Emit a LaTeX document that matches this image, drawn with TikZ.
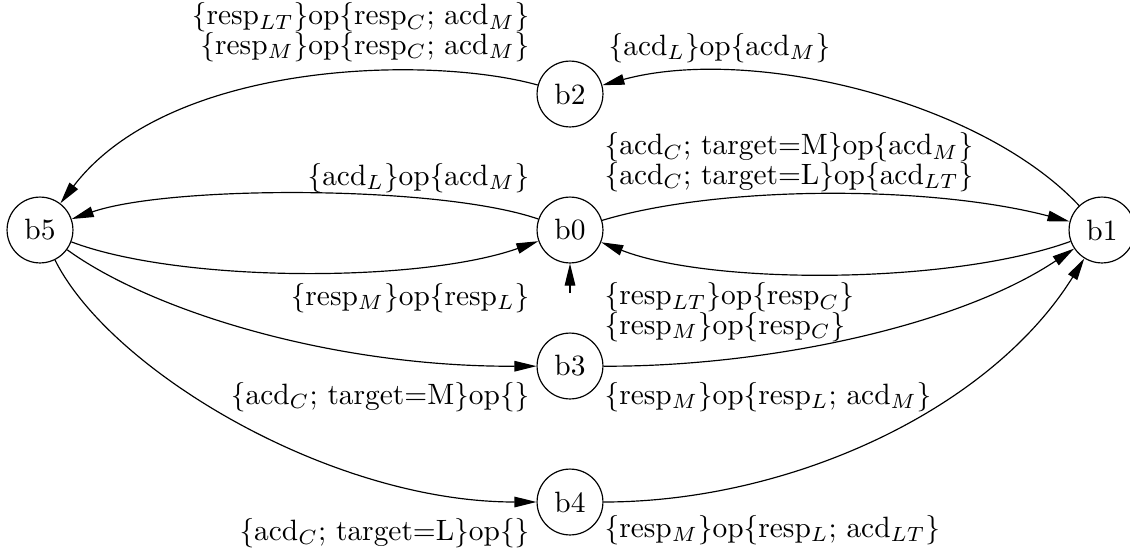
\documentclass[tikz,border=0pt]{standalone}
\usetikzlibrary{arrows.meta}

\tikzset{
  bstate/.style={draw, circle, minimum size=22.4pt, inner sep=0pt},
  tr/.style={-{Triangle[length=7.5pt,width=3.6pt]}},
  lblL/.style={anchor=west, align=left, inner sep=0pt, font=\fontsize{10pt}{10pt}\selectfont},
  lblR/.style={anchor=east, align=right, inner sep=0pt, font=\fontsize{10pt}{10pt}\selectfont},
}

\begin{document}
\begin{tikzpicture}[x=0.34pt, y=-0.34pt]
  \useasboundingbox (0,0) rectangle (1130,551);

% --- STATES ---
  \node[bstate] (b0) at (570,230) {b0};
  \node[bstate] (b1) at (1102,230) {b1};
  \node[bstate] (b2) at (570,94) {b2};
  \node[bstate] (b3) at (570,366) {b3};
  \node[bstate] (b4) at (570,502) {b4};
  \node[bstate] (b5) at (40,230) {b5};

  % start arrow
  \coordinate (init) at (570,293);
  \draw[tr] (init) -- (b0);

% --- TRANSITIONS ---
  % upper arcs
  \draw[tr] (b2) .. controls (430,55) and (170,60) .. (b5);
  \draw[tr] (b1) .. controls (980,100) and (750,45) .. (b2);

  % between b0, b5 and b1
  \draw[tr] (b0) .. controls (440,185) and (170,185) .. (b5);
  \draw[tr] (b5) .. controls (180,283) and (420,283) .. (b0);
  \draw[tr] (b0) .. controls (720,185) and (930,185) .. (b1);
  \draw[tr] (b1) .. controls (950,285) and (710,285) .. (b0);

  % lower arcs
  \draw[tr] (b5) .. controls (150,310) and (330,367) .. (b3);
  \draw[tr] (b3) .. controls (760,367) and (955,328) .. (b1);
  \draw[tr] (b5) .. controls (110,370) and (330,502) .. (b4);
  \draw[tr] (b4) .. controls (790,502) and (990,410) .. (b1);

% --- LABELS ---
  \node[lblR] (l25) at (530,32) {\{resp$_{LT}$\}op\{resp$_C$; acd$_M$\}\\\{resp$_M$\}op\{resp$_C$; acd$_M$\}};
  \node[lblL] (l12) at (608,48) {\{acd$_L$\}op\{acd$_M$\}};
  \node[lblR] (l05) at (530,178) {\{acd$_L$\}op\{acd$_M$\}};
  \node[lblR] (l50) at (530,298) {\{resp$_M$\}op\{resp$_L$\}};
  \node[lblL] (l01) at (604,162) {\{acd$_C$; target=M\}op\{acd$_M$\}\\\{acd$_C$; target=L\}op\{acd$_{LT}$\}};
  \node[lblL] (l10) at (604,312) {\{resp$_{LT}$\}op\{resp$_C$\}\\\{resp$_M$\}op\{resp$_C$\}};
  \node[lblR] (l53) at (530,397) {\{acd$_C$; target=M\}op\{\}};
  \node[lblL] (l31) at (604,397) {\{resp$_M$\}op\{resp$_L$; acd$_M$\}};
  \node[lblR] (l54) at (530,533) {\{acd$_C$; target=L\}op\{\}};
  \node[lblL] (l41) at (604,530) {\{resp$_M$\}op\{resp$_L$; acd$_{LT}$\}};
\end{tikzpicture}
\end{document}
